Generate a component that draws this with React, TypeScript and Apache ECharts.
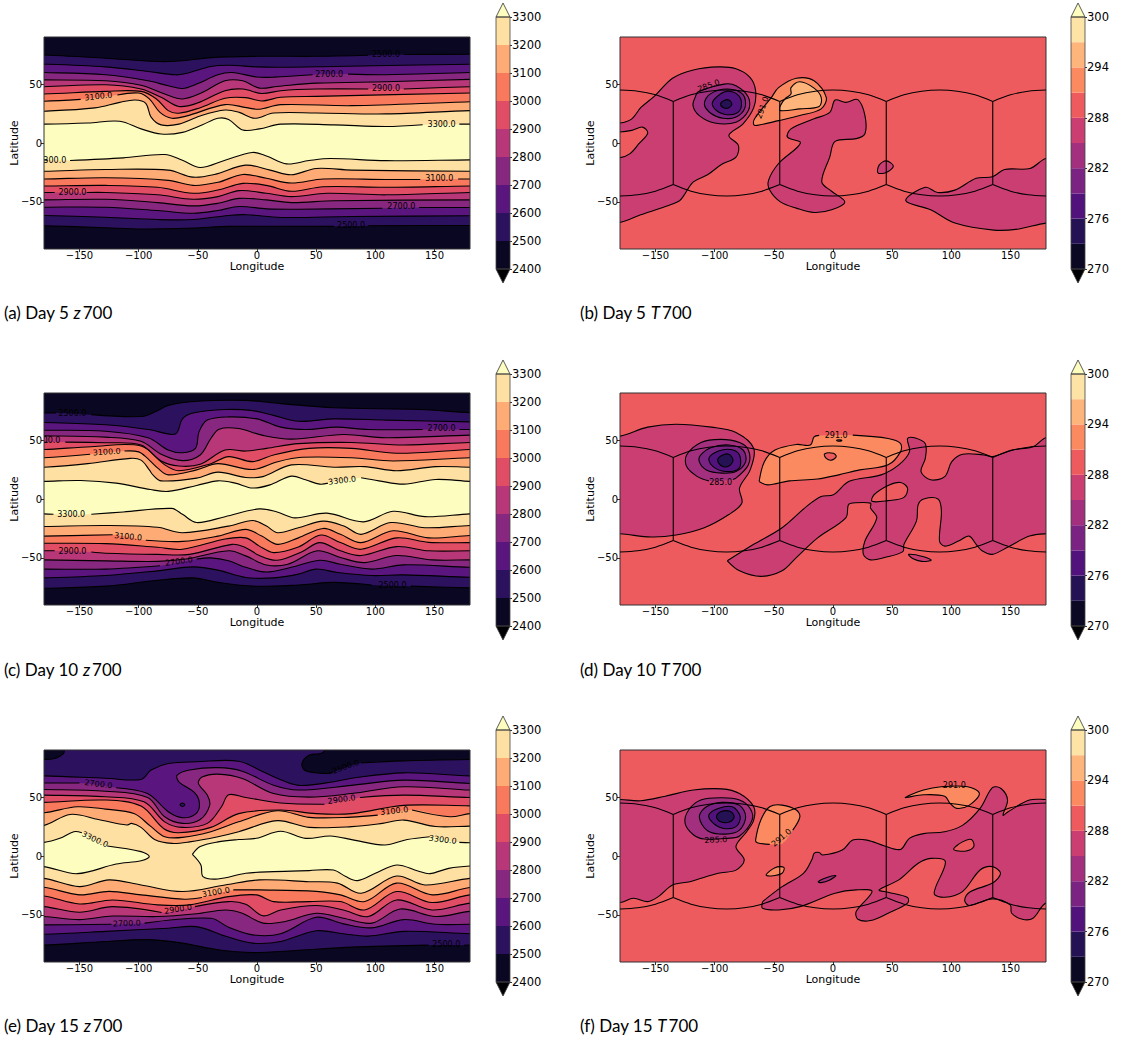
import React, { useEffect, useRef } from "react";
import * as echarts from "echarts";

type Pt = [number, number];
type Path = (Pt | null)[];

// magma bands of the colour bars
const zColors = ["#0a0722", "#2c115f", "#5a167e", "#87277f", "#b73779", "#e24d66", "#f9795d", "#feab76", "#fde0a2"];
const zAbove = "#fcfdbf";
const tColors = ["#0a0822", "#251255", "#51127c", "#7b2382", "#a3307e", "#cb3e72", "#ee5b5e", "#fc8a61", "#feb57c", "#fde3a5"];
const below = "#000004";
const zLevels = [2400, 2500, 2600, 2700, 2800, 2900, 3000, 3100, 3200, 3300];
const tLevels = [270, 273, 276, 279, 282, 285, 288, 291, 294, 297, 300];
const lonTicks = [-150, -100, -50, 0, 50, 100, 150];
const latTicks = [-50, 0, 50];

// Day 5 z700 contours [level, lon/lat path]; null marks a label gap
const z5North: [number, Path][] = [
  [3300, [[-180,16],[-143,17],[-116,18.5],[-98,12],[-81,7.6],[-63,9],[-46,15.5],[-33,21],[-24,20],[-12,11],[2,12],[20,16],[65,15.4],[109,14],[140,15.5],null,[171,16],[180,16]]],
  [3200, [[-180,27],[-137,29.8],[-116,34.5],[-103,36.5],[-94,33.7],[-89.5,22],[-81,15.4],[-66,16],[-48,23],[-27,28],[-15,26],[-2,21],[14,25.5],[50,25.5],[109,24.7],[180,27.5]]],
  [3100, [[-180,35.4],[-149,37],null,[-118,40.7],[-100,42.4],[-91,37.4],[-82,26],[-72,21],[-60,22.8],[-27,32.6],[-9,30],[2,28.7],[20,32.6],[80,31.7],[180,35]]],
  [3000, [[-180,41.6],[-128,43.8],[-98,43.8],[-85,37.4],[-75,27.5],[-66,25.3],[-48,30],[-27,38],[-9.5,38.5],[4,35.7],[20,38.8],[50,39.6],[180,42.4]]],
  [2900, [[-180,47.8],[-128,49.4],[-98,45.8],[-81,38.8],[-66,31],[-51,33.7],[-27,44.4],[-12,45.8],[4,42],[20,44.4],[50,45.8],[94,45.8],null,[124,45.8],[180,47.8]]],
  [2800, [[-180,53.6],[-128,52.8],[-98,49],[-78,41.6],[-63,37.4],[-48,42],[-27,52.8],[-12,52.8],[2,46.6],[17,48],[50,50.8],[109,52],[180,54]]],
  [2700, [[-180,59.8],[-128,57.9],[-92,52.8],[-75,48.6],[-63,46.3],[-51,50],[-33,57.9],[-21,59.8],[0,56],[14,55.9],[47,58],null,[77,58.5],[109,58],[180,59.8]]],
  [2600, [[-180,66.9],[-128,64.6],[-92,60.7],[-69,57.9],[-60,59],[-39,64.9],[-24,66],[0,64.6],[20,64.3],[65,65],[180,66.9]]],
  [2500, [[-180,74.7],[-128,72],[-90,69.4],[-69,69.4],[-39,72.5],[0,73.6],[50,73.6],[94,74.5],null,[124,75.2],[180,75.3]]],
];
const z5South: [number, Path][] = [
  [3300, [[-180,-14.3],[-177,-14.5],null,[-158,-14.9],[-113,-12.6],[-78,-9.8],[-63,-14.6],[-48,-20.8],[-27,-14.6],[-4,-8],[8,-11],[25,-17.7],[44,-14.9],[62,-13.2],[109,-15],[180,-14.3]]],
  [3200, [[-180,-24],[-128,-22.5],[-75,-23],[-54,-29],[-36,-26.7],[-9.5,-18.8],[11,-23],[29,-27],[50,-21.6],[80,-23],[180,-24]]],
  [3100, [[-180,-30.6],[-128,-29.5],[-75,-31.7],[-54,-36],[-33,-33.4],[-12,-26.7],[8,-30],[29,-34],[56,-30.6],[109,-31],[138,-31],null,[170,-30.6],[180,-30.6]]],
  [3000, [[-180,-36.5],[-128,-36],[-84,-37.6],[-54,-42.7],[-33,-39.9],[-12,-34.3],[8,-36],[29,-41],[56,-37.1],[109,-37.6],[180,-36.5]]],
  [2900, [[-180,-42],[-171,-42],null,[-144,-42],[-128,-42],[-84,-44],[-54,-47.8],[-33,-45.5],[-15,-40.4],[8,-42.7],[29,-45.5],[59,-42.7],[109,-44],[180,-42]]],
  [2800, [[-180,-48.3],[-128,-47.8],[-84,-50.6],[-54,-53.4],[-33,-51.2],[-15,-47],[8,-48.3],[29,-50.6],[65,-49],[180,-48.3]]],
  [2700, [[-180,-54.5],[-128,-54.5],[-84,-57.3],[-54,-59.6],[-33,-57.3],[-15,-53.9],[8,-55.9],[35,-56.2],[106,-55.4],null,[137,-54.8],[180,-54.8]]],
  [2600, [[-180,-61.5],[-128,-63],[-84,-65],[-54,-65],[-24,-61.5],[-9,-60.9],[20,-63.2],[80,-62.4],[180,-61.8]]],
  [2500, [[-180,-70.2],[-128,-71.9],[-98,-73],[-54,-72.2],[-24,-70.8],[65,-70.8],null,[94,-70.2],[180,-70]]],
];
const z5Labels = [[2500,109,75.3,0],[2700,61,58.4,0],[2900,109,46.4,0],[3100,-134,39.5,6],[3300,156,16,0],[3300,-173,-14.8,0],[3100,154,-30,0],[2900,-156,-42,0],[2700,122,-54,0],[2500,79.5,-70.2,0]];

// Day 10 z700
const z10North: [number, Path][] = [
  [3300, [[-180,15],[-149,15.7],[-119,13.5],[-90,8],[-75,6.5],[-51,11.5],[-33,15.4],[-18.5,13.5],[-3.5,9.3],[11,12],[29,19.4],[41,16.3],[53,12.6],[60,13.5],null,[88,18],[103,15.4],[124,12.6],[151,16.6],[180,15]]],
  [3200, [[-180,27],[-143,30],[-107,34.5],[-98,33],[-91,24.7],[-88,20.5],[-81,15.4],[-51,17.7],[-33,22.8],[-9.5,18.3],[5,19],[29,29],[65,27],[91,27.5],[118,24],[151,27.5],[180,27]]],
  [3100, [[-180,35],[-141,38],null,[-112,40.7],[-100,40],[-92.5,34.5],[-83.6,26],[-75,20.5],[-51,24.7],[-33,30],[-3.5,25],[17.5,31.7],[38,35.4],[80,35],[115,32.3],[180,35]]],
  [3000, [[-180,42],[-140,44.4],[-98,45],[-78,29],[-66,24],[-39,30],[-24,36],[-3.5,31.7],[14,37.4],[44,43],[80,43],[118,38.8],[180,42]]],
  [2900, [[-180,48],[-177,48.1],null,[-162,48.3],[-128,47.8],[-98,45.8],[-81,32.3],[-66,28],[-48,29.5],[-27,41.6],[-9.5,40.7],[8,43],[35,47],[80,48],[124,45.8],[180,48]]],
  [2800, [[-180,53.6],[-128,52.5],[-98,49],[-81,38],[-63,32.6],[-48,37.4],[-39,51.4],[-32,59.3],[-15.5,59.8],[5,54],[29,50.8],[73,54.8],[109,52],[180,54.2]]],
  [2700, [[-180,58.4],[-128,57.5],[-92,52],[-75,41.6],[-63,39.3],[-52,43],[-49,57],[-42,67],[-24,69.7],[0,68],[20,61],[41,59],[67,61],[94,59],[140,59],null,[171,59],[180,59]]],
  [2600, [[-180,65],[-128,63],[-92,59],[-72,54.8],[-67.5,56.5],[-63,68],[-54,73],[-27,76],[-3.5,75],[14,71],[35,66],[65,68],[109,67],[180,65.5]]],
  [2500, [[-180,73],[-170,73],null,[-140,71.6],[-98,70],[-86,74],[-75,79.5],[-51,83],[-9.5,83.7],[20,81],[65,77.5],[138,76],[180,73.3]]],
];
const z10South: [number, Path][] = [
  [3300, [[-180,-12.6],[-172,-13],null,[-140,-13],[-113,-11],[-72,-8],[-63,-13],[-51,-20],[-27,-15],[2,-8.4],[17,-11],[32,-16],[59,-12],[90,-19.4],[115,-10.4],[142,-15],[180,-12.6]]],
  [3200, [[-180,-23.3],[-128,-22.5],[-84,-24],[-63,-28.6],[-24,-23],[-3.5,-18.3],[8,-23],[17.5,-28.6],[35,-24.4],[56,-18.8],[73.5,-23],[88,-30],[113,-20],[142,-24.4],[180,-22.5]]],
  [3100, [[-180,-31.5],[-122,-30.4],null,[-94,-35],[-63,-36],[-33,-31.5],[-9.5,-25.8],[4,-31.5],[17.5,-38.5],[35,-33],[56,-25],[70.5,-30],[88,-37],[115,-27],[145,-33],[180,-31]]],
  [3000, [[-180,-37.6],[-128,-37.9],[-84,-41],[-63,-42.7],[-27,-34],[-9.5,-33],[2,-40],[14,-45.5],[35,-40.7],[54,-30.6],[70.5,-37],[88,-42.7],[118,-33],[145,-36.8],[180,-37]]],
  [2900, [[-180,-44],[-171,-44],null,[-140,-45],[-128,-46],[-84,-47],[-57,-47],[-21,-38.5],[-9.5,-41.3],[2,-48],[17,-52],[38,-44.7],[53,-37],[70.5,-44],[88,-48],[118,-40.4],[145,-44],[180,-44]]],
  [2800, [[-180,-51.7],[-128,-52.5],[-84,-53],[-60,-51],[-24,-44],[-9.5,-48.3],[8,-56],[26,-55.4],[51,-44],[70.5,-49.7],[91,-54],[118,-48],[148,-51.7],[180,-51.7]]],
  [2700, [[-180,-59.5],[-128,-59.5],[-82,-56.7],null,[-51,-51],[-39,-50],[-24,-52.5],[-9.5,-58],[8,-62],[29,-58],[53,-52],[70.5,-55.4],[97,-59.5],[124,-55.9],[180,-58]]],
  [2600, [[-180,-67],[-128,-65],[-84,-61],[-54,-57.6],[-33,-60.4],[-9.5,-66.6],[14,-67],[35,-63.8],[50,-59.5],[68,-62.4],[97,-65],[124,-64.4],[180,-66.4]]],
  [2500, [[-180,-75.8],[-128,-74],[-84,-69],[-54,-67],[-33,-70.8],[-3.5,-74],[35,-73],[65,-70.8],[97,-73],null,[130,-74],[180,-75.5]]],
];
const z10Labels = [[2500,-156,73,0],[2700,156,60,0],[2900,-178,49.3,0],[3100,-127,39.9,4],[3300,72,15.7,7],[3300,-157,-13.2,0],[3100,-109,-32,-5],[2900,-156,-44.9,0],[2700,-66,-53,8],[2500,114.5,-73.6,0]];

// Day 15 z700
const z15Islands: [number, Path][] = [
  [9, [[-180,11.6],[-166.6,15],[-154.8,20.6],[-148,19.8],null,[-126.6,8.5],[-98,3.7],[-91,-0.5],[-98,-4],[-119,-6.8],[-152,-15],[-180,-9]]],
  [9, [[-54.6,1.4],[-48,8],[-33,12],[-15.5,14],[-0.6,15],[20,21],[41,15],[62,17],[82,13.5],[108,9.3],[127,14],[146,16.4],null,[171,11.6],[180,11.3],null,[180,-8.5],[162,-10.5],[146,-15],[136,-12.7],[118,-7.6],[100,-14.7],[85,-20.9],[75,-17.5],[64.6,-11.9],[44,-12.4],[14,-13.3],[-9.5,-14.7],[-33,-19.5],[-45.6,-17.5],[-47.4,-7.6],[-54.6,1.4]]],
];
const z15North: [number, Path][] = [
  [3200, [[-180,26],[-158,35.3],[-134,31],[-110,26.3],[-106,27.7],[-98,24.3],[-86.5,14],[-72,10.7],[-57,12],[-33,16.4],[-15.5,20.6],[17,30],[44,24.3],[80,24.9],[106,27.7],[124,30.5],[151,25],[180,25.4]]],
  [3100, [[-180,36.7],[-152,41.8],[-128,39.8],[-104,36],[-89.5,24.9],[-78,16.4],[-63,15.8],[-39,20.6],[-15.5,29],[17,38.4],[44,32.8],[80,33],[102,34.7],null,[131,39],[163,33.3],[180,36]]],
  [3000, [[-180,45.5],[-128,47.5],[-98,42.4],[-79,23.4],[-66,19.8],[-39,24.3],[-15.5,36],[20,39],[50,36],[80,36],[124,43],[180,42.6]]],
  [2900, [[-180,51.7],[-128,50.3],[-95.5,46],[-78,29],[-63,24.3],[-42,27.7],[-30,41.8],[-24,52],[-9.5,49.7],[20,45],[57,44],null,[87,49.7],[124,51.7],[180,49.7]]],
  [2800, [[-180,56.5],[-128,55],[-92.5,49.7],[-78,33.3],[-63,27.7],[-48,31],[-40,43],[-42,51.7],[-49.5,61.6],[-46.5,67],[-33,69.5],[-12.5,65.8],[14,53],[44,50],[80,53],[124,58.8],[180,56]]],
  [2700, [[-180,62],[-150,62],null,[-119,58],[-92.5,53],[-75,37.6],[-63,32.5],[-52,35.6],[-48.6,43.2],[-52,53],[-66,63],[-67.5,68.6],[-57,73],[-33,75],[-12.5,72],[14,60],[35,56],[80,60],[124,64.4],[180,61.6]]],
  [2600, [[-180,68],[-128,66],[-98,65],[-89.5,73],[-75,78.5],[-51,80],[-15.5,80.5],[5,71.5],[17,66],[35,60],[65,63],[80,66],[124,70.6],[180,68]]],
];
const z15South: [number, Path][] = [
  [3200, [[-180,-19],[-150,-26],[-125,-20.3],[-98,-24.6],[-63,-30.2],[-27,-24.6],[2,-20.3],[44,-21.8],[68,-23],[88,-31.6],[118,-17],[142,-24.6],[180,-19]]],
  [3100, [[-180,-26.5],[-150,-33],[-125,-30],[-98,-33],[-61,-36.7],[-46.5,-35.3],null,[-20,-28.8],[2,-28.8],[50,-30],[70.5,-33],[91,-38.7],[118,-23],[148,-33],[180,-26.8]]],
  [3000, [[-180,-34],[-150,-40.7],[-122,-37.3],[-84,-41.5],[-57,-41.5],[-24,-34.5],[-0.6,-33],[14,-38.7],[44,-38.7],[70.5,-38.7],[91,-45.8],[118,-30.2],[148,-39.5],[180,-33]]],
  [2900, [[-180,-43],[-150,-47.7],[-122,-43],[-80.6,-48],null,[-52.5,-43],[-24,-38.7],[-9.5,-41],[5,-50.8],[20,-45.8],[50,-42],[73,-45.8],[94,-51.4],[118,-37.3],[148,-45.8],[180,-40]]],
  [2800, [[-180,-51.4],[-150,-54],[-122,-51],[-84,-51.4],[-51,-49],[-27,-45.8],[-12.5,-48.6],[5,-57],[24,-55.6],[50,-48.6],[73,-52.8],[97,-57],[121,-45],[151,-51.4],[180,-47]]],
  [2700, [[-180,-58.5],[-123,-58],null,[-95,-57],[-39,-52.8],[-24,-60.5],[-3.5,-67],[20,-66],[50,-52],[73,-57.6],[97,-61],[124,-54],[151,-58],[180,-58]]],
  [2600, [[-180,-66.4],[-128,-64],[-75,-61.3],[-51,-60],[-27,-68],[-3.5,-74],[20,-72.6],[50,-63.5],[73,-66],[94,-68],[124,-64],[180,-66]]],
  [2500, [[-180,-75.7],[-128,-72.6],[-92.5,-71],[-63,-74],[-33,-79.6],[-3.5,-82],[35,-80],[80,-77.4],[145,-75.7],null,[175,-75.7],[180,-75.7]]],
];
const z15Over: [number, Path][] = [
  [0, [[-180,82],[-172,82.5],[-166,85],[-163,88],[-165,95],[-200,100]]],
  [0, [[200,100],[60,100],[56,88],[44,85.6],[38,78.5],[41,72.3],[59,70],[64,71],null,[88,79],[124,80.8],[180,82]]],
  [1, [[-65,43.5],[-63,45],[-61,43.5],[-63,42]]],
];
const z15Labels = [[2500,75,75.7,20],[2700,-134,61,-7],[2900,71.5,48,8],[3100,116,38.2,6],[3300,-137,14,-25],[3300,157,13.8,-7],[3100,-34.7,-30.8,10],[2900,-66.7,-45.2,9],[2700,-110,-57.3,2],[2500,160,-75,0]];

// Temperature regions [band index, lon/lat path], painted in order
const t5Regions: [number, Path][] = [
  [5, [[-180,17],[-170,20.5],[-162.5,30],[-150.6,40],[-135.6,55],[-118,62],[-97,64.6],[-82,63],[-70,55.6],[-65.4,44.4],[-67,30],[-76,16.3],[-88,6.5],[-80,-2],[-82,-12],[-94,-18],[-106,-27],[-118,-33],[-126.7,-45.5],[-129.7,-49],[-141.6,-54],[-162.5,-61],[-180,-67.4],null,[-180,-12.4],[-171.5,-9],[-164,-0.6],[-156.6,8.4],[-161,13.5],[-170,10.7],[-180,9.3]]],
  [5, [[1.8,36.5],[10.8,34.5],[21,36.8],[27,23.3],[27,7.9],[19.7,3.7],[1.8,1.4],[-2.7,-11.8],[-9.5,-33],[-1.2,-41],[10,-50],[-1.2,-56.7],[-16,-59],[-31,-55.3],[-44.5,-50],[-53.5,-40],[-54.4,-31.5],[-46,-17.4],[-27.5,0],[-38.5,5],[-35.5,12],[-16,20.5],[-2.7,26]]],
  [5, [[45,-15.2],[51,-19.7],[45,-25],[38,-25.3],[39,-18.8]]],
  [5, [[180,-13.2],[166.5,-21.6],[145,-22.5],[134.7,-28.7],[121,-30],[103,-40],[88.4,-42],[78,-37.6],[61.5,-49],[82.5,-56.7],[103,-68],[136,-74],[157,-73],[180,-68]]],
  [4, [[-92,50],[-82,48.6],[-71.5,38.8],[-71.5,27.5],[-82,17.7],[-100,17],[-113,23.3],[-118.3,31.7],[-116,40],[-114,43.5]]],
  [3, [[-108.7,33],[-104,41.5],[-89,45.8],[-76,41],[-74.4,30],[-82,22],[-93,21],[-103,25]]],
  [2, [[-102,34],[-96,41],[-88,44],[-79.5,40],[-77.5,31],[-82,25],[-92,24.4],[-99,28]]],
  [1, [[-95,33],[-92,36],[-88,36.6],[-85.5,33],[-88,30],[-92,29.8]]],
  [7, [[-52,38.8],[-46,47],[-31,55],[-16,52.8],[-5.7,38.8],[-10,29],[-28,23.3],[-46,19],[-64,15],[-67,15.7],[-66,21]]],
  [8, [[-44.5,31.7],[-40,38],[-35.5,41.6],[-35.5,47],[-28,52],[-16,46.6],[-10,38.8],[-11.7,31],[-28,29],[-44.5,27.5]]],
];
const t5Labels = [[285,-105,48.6,20],[291,-59.5,30,70]];

const t10Regions: [number, Path][] = [
  [5, [[-180,53.4],[-156.6,61],[-132.6,63.5],[-102.6,61],[-82,56.5],[-67,43],[-70,24.7],[-79,9.3],[-77,-3.4],[-88,-13.2],[-108.8,-24.4],[-132.6,-30.6],[-153.6,-32.3],[-180,-29.5]]],
  [5, [[-89.3,-52.5],[-67,-38.5],[-43,-24.4],[-22,-6],[-10,2.2],[0.3,3.6],[13.7,15],[40.6,20.5],[55.6,29],[64.6,40],[63,51.4],[69,52],[78,47],[78,34.5],[74.4,23.3],[82.4,16.3],[94.4,19],[100.4,31.7],[109.4,38],[127.3,37.4],[134.7,36],[151,41.6],[169,44.4],[180,52],null,[180,-29.5],[166,-31.5],[148,-40.7],[134.7,-47],[126,-44],[121,-38.5],[115,-31.5],[106,-35.7],[94.4,-40],[90,-35.7],[91.6,-10.4],[88.7,0],[76.7,0],[72,-4.8],[70.5,-18.8],[60,-38.5],[59,-44.7],[43.6,-49.7],[31.7,-51.7],[25.7,-47],[27,-35.7],[37,-16],[31.7,-7.6],[31.7,-3.5],[16.7,-3.4],[13,-4.8],[10.8,-16],[-13,-33],[-31,-49.7],[-43,-61],[-61,-65.7],[-79,-61],[-89.3,-52.5]]],
  [6, [[33,-2],[34.7,3.6],[46.6,11.5],[57,14],[63,9.3],[60,1.4],[46.6,-1.4]]],
  [5, [[64,-47],[76.7,-49],[83,-52],[75,-53],[67.3,-50.6]]],
  [4, [[-82,17.7],[-71.5,29],[-71.5,41.6],[-79,48],[-95,50.6],[-111.5,48],[-123.7,37.4],[-123.7,27.5],[-114.6,19],[-104.9,15.4],null,[-84.5,16.5],[-82,17.7]]],
  [3, [[-111.7,37.4],[-102.8,43.8],[-87.8,45.8],[-76,41.6],[-73.8,31.7],[-82,23.3],[-93.8,22],[-107,24.7],[-113,31.7]]],
  [2, [[-104.9,34.5],[-96.8,40.7],[-86.3,42],[-79,37.4],[-79.4,26],[-90.8,23.3],[-101.3,27.5]]],
  [1, [[-97.5,33],[-94,37],[-88,38],[-84.5,33],[-88,28],[-94,28]]],
  [7, [[-62.4,14.9],[-58,31.7],[-49,41.6],[-31,46.3],[-19.1,45.8],[-16,52.8],[-11.7,54],null,[16.7,54.2],[46.6,51.4],[57,47.2],[57,40],[46.6,29],[22.7,24.7],[4.8,20.5],[-13.1,17],[-37,15.4],[-55,12],[-62.4,14.9]]],
  [6, [[-7.2,38.2],[0.3,38.8],[2.7,36],[-1.2,33],[-5.7,34.5]]],
  [6, [[3,49.7],[5,50.2],[7.5,49.7],[5,49]]],
];
const t10Labels = [[285,-95,14.3,0],[291,2.7,54.2,0]];

const t15Regions: [number, Path][] = [
  [5, [[-180,48],[-162.5,46.9],[-141.6,50.8],[-118,56],[-94,57],[-79,53],[-67,41.8],[-67,30.5],[-73,20.6],[-82,8],[-75,-3.4],[-82,-12],[-97,-14.7],[-121,-21.8],[-135.6,-24.6],[-147.6,-34.5],[-156.6,-38.7],[-168.6,-35.9],[-180,-39.5]]],
  [5, [[-59.5,-38.7],[-43,-26],[-25,-14.7],[-17.6,-2.5],[-16,2.3],[-11.7,3],[-8.7,0.8],[7.8,5],[16.7,13.5],[28.7,13.5],[43.6,8.5],[57,5.6],[64.5,15],[76.5,19],[94.4,20.6],[109.4,26],[124.3,40.4],[134.7,58],[142,57.3],[147.5,47.5],[143.7,34.7],[148,37.6],[166,47.5],[180,48],null,[180,-40],[169,-52.8],[160,-53.7],[151,-48.6],[149.7,-41.5],[134.7,-36.4],[115,-42],[111.3,-37.3],[116.3,-30.2],[134.7,-23],[141.6,-14.7],[134.7,-9],[124.3,-11.9],[109.4,-30.2],[94.4,-35],[85.5,-31.6],[95,-4.8],[82.5,-2],[72,-6.2],[55.6,-20.3],[39,-28.8],[46.6,-30.8],[63,-35.3],[63,-40],[46.6,-48.6],[31.7,-54.8],[21,-53.7],[19.7,-47],[33,-30.2],[19.7,-28.8],[1.8,-31.6],[-28,-43],[-46,-45.8],[-59.5,-44.4],[-59.5,-38.7]]],
  [6, [[102,5.6],[109.4,12],[117,14],[119,8],[112.5,4.2]]],
  [4, [[-12.5,-21.8],[-5.7,-18.4],[2.4,-16.7],[-2.7,-20.3],[-10,-22.6]]],
  [4, [[-89.3,15],[-79,17],[-68.4,30.5],[-70,40.4],[-79,47.5],[-93.8,49.4],[-111.7,47.5],[-122,39],[-125,27.7],[-117.7,17.8],[-108.8,14.4]]],
  [3, [[-113,33.3],[-107,41.8],[-93.8,45.5],[-79,43],[-73.8,33.3],[-79,22],[-91,18.6],[-106,21.5]]],
  [2, [[-105,34.7],[-97,40.4],[-85,41.8],[-78.4,33.3],[-82,24.9],[-92.4,23.4],[-101,27.7]]],
  [1, [[-98.5,33.3],[-95,37.5],[-87,38],[-83.5,33.3],[-87,29],[-95,29]]],
  [7, [[-43,10.5],null,[-53.5,9.9],[-64,11.3],[-65.4,13.6],[-61,30.5],[-53.5,41.8],[-43,43.2],[-31,39],[-28,33.3],[-34,22]]],
  [7, [[-56.5,-16],[-49,-9.9],[-41.5,-9.6],[-43,-14.7],[-52,-17]]],
  [7, [[113.8,58.8],[123.7,53],[115,43],[104.6,40.4],[99,44.6],[94.4,50.8],[76.5,52],[61,49.7],[76.5,56],[91.4,58.8]]],
];
const t15Labels = [[285,-99,13.6,2],[291,-43.6,15.5,40],[291,102.5,60,0]];

// Black face outlines of the temperature panels
const faceArcs: Pt[][] = [
  [[-180,45],[-165,44],[-150,40.9],[-135,35.3]],
  [[-135,35.3],[-120,40.9],[-105,44],[-90,45],[-75,44],[-60,40.9],[-45,35.3]],
  [[-45,35.3],[-30,40.9],[-15,44],[0,45],[15,44],[30,40.9],[45,35.3]],
  [[45,35.3],[60,40.9],[75,44],[90,45],[105,44],[120,40.9],[135,35.3]],
  [[135,35.3],[150,40.9],[165,44],[180,45]],
  [[-180,-45],[-165,-44],[-150,-40.9],[-135,-35.3]],
  [[-135,-35.3],[-120,-40.9],[-105,-44],[-90,-45],[-75,-44],[-60,-40.9],[-45,-35.3]],
  [[-45,-35.3],[-30,-40.9],[-15,-44],[0,-45],[15,-44],[30,-40.9],[45,-35.3]],
  [[45,-35.3],[60,-40.9],[75,-44],[90,-45],[105,-44],[120,-40.9],[135,-35.3]],
  [[135,-35.3],[150,-40.9],[165,-44],[180,-45]],
  [[-135,35.3],[-135,-35.3]],
  [[-45,35.3],[-45,-35.3]],
  [[45,35.3],[45,-35.3]],
  [[135,35.3],[135,-35.3]],
];

const captionsText: [string, string, string][] = [
  ["(a) Day 5 ", "z", "700"],
  ["(b) Day 5 ", "T", "700"],
  ["(c) Day 10 ", "z", "700"],
  ["(d) Day 10 ", "T", "700"],
  ["(e) Day 15 ", "z", "700"],
  ["(f) Day 15 ", "T", "700"],
];

const FONT = "DejaVu Sans";
const SM = 0.34;
const LW = 1.1;
const plotTops = [37, 393, 750];
const barTops = [17, 374, 730];
const captionYs = [312, 669, 1025];

function splitPath(p: Path): Pt[][] {
  const segs: Pt[][] = [];
  let cur: Pt[] = [];
  p.forEach((q) => {
    if (q) cur.push(q);
    else {
      segs.push(cur);
      cur = [];
    }
  });
  if (cur.length) segs.push(cur);
  return segs;
}
function extendEnds(seg: Pt[]): Pt[] {
  const out = seg.slice();
  const a = seg[0];
  const b = seg[seg.length - 1];
  if (Math.abs(a[0]) === 180) out.unshift([a[0] * 1.11, a[1]]);
  if (Math.abs(b[0]) === 180) out.push([b[0] * 1.11, b[1]]);
  return out;
}
function isOpen(p: Path): boolean {
  const segs = splitPath(p);
  if (segs.length > 1) return true;
  const s = segs[0];
  return Math.abs(s[0][0]) >= 180 || Math.abs(s[s.length - 1][0]) >= 180;
}

function shapeSeries(idx: number, p: Path, color: string, closeLat: number | null): any {
  const segs = splitPath(p).map(extendEnds);
  const data = p.filter(Boolean) as Pt[];
  const open = isOpen(p) || closeLat !== null;
  return {
    type: "custom",
    coordinateSystem: "cartesian2d",
    xAxisIndex: idx,
    yAxisIndex: idx,
    clip: true,
    silent: true,
    data,
    renderItem: (params: any, api: any) => {
      if (params.dataIndex !== 0) return null;
      const fillPts: Pt[] = [];
      segs.forEach((s) => s.forEach((q) => fillPts.push(q)));
      if (closeLat !== null) {
        fillPts.push([205, closeLat], [-205, closeLat]);
      }
      const children: any[] = [
        {
          type: "polygon",
          shape: { points: fillPts.map((q) => api.coord(q)), smooth: SM },
          style: { fill: color, stroke: open ? "none" : "#000", lineWidth: LW },
        },
      ];
      if (open) {
        segs.forEach((s) =>
          children.push({
            type: "polyline",
            shape: { points: s.map((q) => api.coord(q)), smooth: SM },
            style: { fill: "none", stroke: "#000", lineWidth: LW },
          })
        );
      }
      return { type: "group", children };
    },
  };
}

function labelSeries(idx: number, labels: number[][]): any {
  return {
    type: "custom",
    coordinateSystem: "cartesian2d",
    xAxisIndex: idx,
    yAxisIndex: idx,
    clip: true,
    silent: true,
    encode: { x: 1, y: 2 },
    data: labels,
    renderItem: (_: any, api: any) => {
      const c = api.coord([api.value(1), api.value(2)]);
      return {
        type: "text",
        x: c[0],
        y: c[1],
        rotation: (api.value(3) * Math.PI) / 180,
        style: {
          text: Number(api.value(0)).toFixed(1),
          fontFamily: FONT,
          fontSize: 8,
          fill: "#000",
          align: "center",
          verticalAlign: "middle",
        },
      };
    },
  };
}

function frameSeries(idx: number): any {
  return {
    type: "custom",
    coordinateSystem: "cartesian2d",
    xAxisIndex: idx,
    yAxisIndex: idx,
    clip: false,
    silent: true,
    data: [[-180, -90]],
    renderItem: (_: any, api: any) => {
      const a = api.coord([-180, 90]);
      const b = api.coord([180, -90]);
      return {
        type: "rect",
        shape: { x: a[0], y: a[1], width: b[0] - a[0], height: b[1] - a[1] },
        style: { fill: "none", stroke: "#333", lineWidth: 1 },
      };
    },
  };
}

function barSeries(idx: number, levels: number[], colors: string[], top: string): any[] {
  const lo = levels[0];
  const hi = levels[levels.length - 1];
  const ext = (hi - lo) * 0.0556;
  const rects = {
    type: "custom",
    coordinateSystem: "cartesian2d",
    xAxisIndex: idx,
    yAxisIndex: idx,
    silent: true,
    data: levels.slice(0, -1).map((l, i) => [0, l, levels[i + 1], i]),
    renderItem: (_: any, api: any) => {
      const a = api.coord([0, api.value(2)]);
      const b = api.coord([1, api.value(1)]);
      return {
        type: "rect",
        shape: { x: a[0], y: a[1], width: b[0] - a[0], height: b[1] - a[1] },
        style: { fill: colors[api.value(3)] },
      };
    },
  };
  const caps = {
    type: "custom",
    coordinateSystem: "cartesian2d",
    xAxisIndex: idx,
    yAxisIndex: idx,
    silent: true,
    data: [[0.5, hi + ext], [0.5, lo - ext]],
    renderItem: (p: any, api: any) => {
      const up = p.dataIndex === 0;
      const base = up ? hi : lo;
      const apex = up ? hi + ext : lo - ext;
      return {
        type: "polygon",
        shape: { points: [api.coord([0, base]), api.coord([0.5, apex]), api.coord([1, base])] },
        style: { fill: up ? top : below, stroke: "#333", lineWidth: 0.8 },
      };
    },
  };
  const outline = {
    type: "custom",
    coordinateSystem: "cartesian2d",
    xAxisIndex: idx,
    yAxisIndex: idx,
    silent: true,
    data: [[0, lo]],
    renderItem: (_: any, api: any) => {
      const a = api.coord([0, hi]);
      const b = api.coord([1, lo]);
      return {
        type: "rect",
        shape: { x: a[0], y: a[1], width: b[0] - a[0], height: b[1] - a[1] },
        style: { fill: "none", stroke: "#444", lineWidth: 0.8 },
      };
    },
  };
  return [rects, caps, outline];
}

const minus = (v: number) => String(v).replace("-", "\u2212");

function buildOption() {
  const grids: any[] = [];
  const xAxes: any[] = [];
  const yAxes: any[] = [];
  const series: any[] = [];
  const panels = [
    { north: z5North, south: z5South, under: [], over: [], labels: z5Labels, bg: zAbove, z: true },
    { north: [], south: [], under: [], over: t5Regions, labels: t5Labels, bg: tColors[6], z: false },
    { north: z10North, south: z10South, under: [], over: [], labels: z10Labels, bg: zAbove, z: true },
    { north: [], south: [], under: [], over: t10Regions, labels: t10Labels, bg: tColors[6], z: false },
    { north: z15North, south: z15South, under: z15Islands, over: z15Over, labels: z15Labels, bg: zColors[8], z: true },
    { north: [], south: [], under: [], over: t15Regions, labels: t15Labels, bg: tColors[6], z: false },
  ];
  panels.forEach((pn: any, i) => {
    const row = Math.floor(i / 2);
    const col = i % 2;
    const plot = i * 2;
    const bar = i * 2 + 1;
    grids.push({
      show: true,
      left: col ? 620 : 44,
      width: 426,
      top: plotTops[row],
      height: 212,
      backgroundColor: pn.bg,
      borderWidth: 0,
    });
    grids.push({ left: col ? 1071 : 496, width: 14, top: barTops[row], height: 252 });
    xAxes.push({
      type: "value",
      gridIndex: plot,
      min: -180,
      max: 180,
      name: "Longitude",
      nameLocation: "middle",
      nameGap: 12,
      nameMoveOverlap: false,
      nameTextStyle: { fontFamily: FONT, fontSize: 11, color: "#000" },
      axisLine: { show: false, onZero: false },
      splitLine: { show: false },
      axisTick: { show: true, length: 3, customValues: lonTicks, lineStyle: { color: "#333" } },
      axisLabel: { customValues: lonTicks, formatter: minus, fontFamily: FONT, fontSize: 10, color: "#000", margin: 1 },
    });
    yAxes.push({
      type: "value",
      gridIndex: plot,
      min: -90,
      max: 90,
      name: "Latitude",
      nameLocation: "middle",
      nameGap: 24,
      nameMoveOverlap: false,
      nameTextStyle: { fontFamily: FONT, fontSize: 11, color: "#000" },
      axisLine: { show: false, onZero: false },
      splitLine: { show: false },
      axisTick: { show: true, length: 3, customValues: latTicks, lineStyle: { color: "#333" } },
      axisLabel: { customValues: latTicks, formatter: minus, fontFamily: FONT, fontSize: 10, color: "#000", margin: 2 },
    });
    xAxes.push({ type: "value", gridIndex: bar, min: 0, max: 1, show: false, axisLine: { onZero: false } });
    yAxes.push({
      type: "value",
      gridIndex: bar,
      position: "right",
      min: pn.z ? 2400 : 270,
      max: pn.z ? 3300 : 300,
      interval: pn.z ? 100 : 6,
      axisLine: { show: false, onZero: false },
      splitLine: { show: false },
      axisTick: { show: true, length: 2, lineStyle: { color: "#333" } },
      axisLabel: { fontFamily: FONT, fontSize: 11.5, color: "#000", margin: 2, showMinLabel: true, showMaxLabel: true, formatter: (v: number) => String(v) },
    });

    const colors = pn.z ? zColors : tColors;
    const pick = (b: number) => (b === 9 && pn.z ? zAbove : colors[b]);
    pn.under.forEach(([b, p]: [number, Path]) => series.push(shapeSeries(plot, p, pick(b), null)));
    const band = (l: number) => zColors[(l - 2500) / 100];
    pn.north.forEach(([l, p]: [number, Path]) => series.push(shapeSeries(plot, p, band(l), 140)));
    pn.south.forEach(([l, p]: [number, Path]) => series.push(shapeSeries(plot, p, band(l), -140)));
    pn.over.forEach(([b, p]: [number, Path]) => series.push(shapeSeries(plot, p, pick(b), null)));
    if (!pn.z) {
      faceArcs.forEach((arc) => {
        series.push({
          type: "line",
          xAxisIndex: plot,
          yAxisIndex: plot,
          data: arc,
          smooth: arc[0][0] === arc[1][0] ? false : 0.3,
          showSymbol: false,
          silent: true,
          clip: true,
          lineStyle: { color: "#000", width: LW },
        });
      });
    }
    series.push(labelSeries(plot, pn.labels));
    series.push(frameSeries(plot));
    barSeries(bar, pn.z ? zLevels : tLevels, colors, zAbove).forEach((s) => series.push(s));
  });

  const graphic = captionsText.map((c, i) => ({
    type: "text",
    x: i % 2 ? 580 : 4,
    y: captionYs[Math.floor(i / 2)],
    silent: true,
    style: {
      text: `{a|${c[0]}}{i|${c[1]}}{a|${c[2]}}`,
      verticalAlign: "middle",
      rich: {
        a: { fontFamily: "Lato", fontSize: 17, fill: "#000", color: "#000" },
        i: { fontFamily: "Lato", fontSize: 17, fontStyle: "italic", fill: "#000", color: "#000", padding: [0, 2, 0, 0] },
      },
    },
  }));

  return {
    animation: false,
    backgroundColor: "#fff",
    grid: grids,
    xAxis: xAxes,
    yAxis: yAxes,
    series,
    graphic,
  };
}

export default function App() {
  const ref = useRef<HTMLDivElement>(null);
  useEffect(() => {
    document.body.style.margin = "0";
    const chart = echarts.init(ref.current as HTMLDivElement, undefined, { renderer: "svg" });
    chart.setOption(buildOption() as any);
    return () => chart.dispose();
  }, []);
  return <div ref={ref} style={{ width: 1124, height: 1040 }} />;
}
